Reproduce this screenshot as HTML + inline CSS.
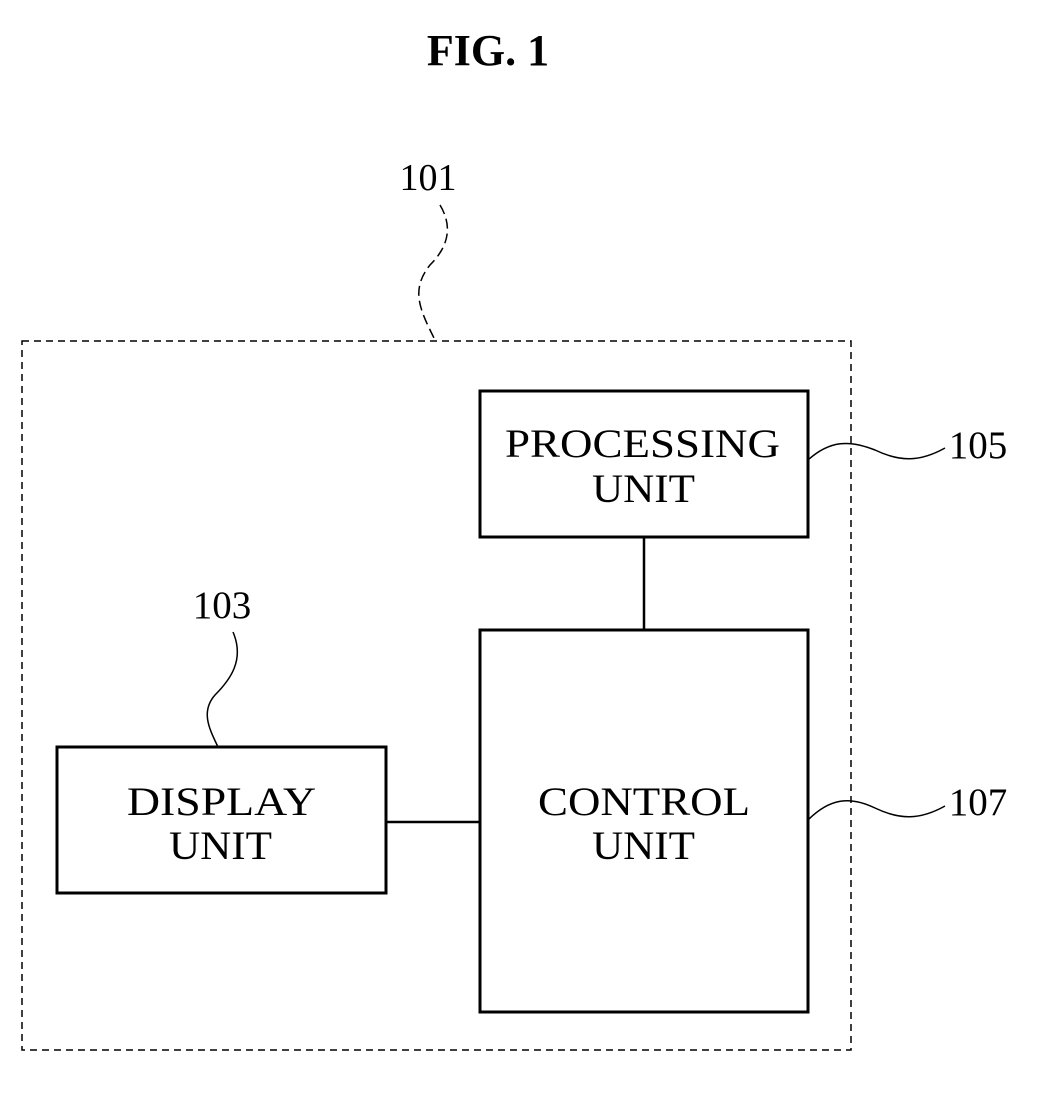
<!DOCTYPE html>
<html><head><meta charset="utf-8"><style>
html,body{margin:0;padding:0;background:#fff;}
svg{display:block;}
text{font-family:"Liberation Serif",serif;fill:#000;}
</style></head><body>
<svg width="1039" height="1098" viewBox="0 0 1039 1098" xmlns="http://www.w3.org/2000/svg">
<text x="488" y="65" font-size="44" font-weight="bold" text-anchor="middle">FIG. 1</text>
<rect x="22" y="341" width="829" height="709" fill="none" stroke="#000" stroke-width="1.5" stroke-dasharray="7,5"/>
<text x="428" y="190" font-size="38" text-anchor="middle">101</text>
<path d="M440,205 C455,230 445,250 430,265 C410,290 420,310 435,340" fill="none" stroke="#000" stroke-width="1.5" stroke-dasharray="10,5"/>
<rect x="480" y="391" width="328" height="146" fill="none" stroke="#000" stroke-width="3"/>
<text x="505" y="457" font-size="40" textLength="275" lengthAdjust="spacingAndGlyphs">PROCESSING</text>
<text x="592" y="502" font-size="40" textLength="103" lengthAdjust="spacingAndGlyphs">UNIT</text>
<line x1="644" y1="537" x2="644" y2="630" stroke="#000" stroke-width="2.5"/>
<rect x="480" y="630" width="328" height="382" fill="none" stroke="#000" stroke-width="3"/>
<text x="538" y="815" font-size="40" textLength="212" lengthAdjust="spacingAndGlyphs">CONTROL</text>
<text x="592" y="859" font-size="40" textLength="103" lengthAdjust="spacingAndGlyphs">UNIT</text>
<rect x="57" y="747" width="329" height="146" fill="none" stroke="#000" stroke-width="3"/>
<text x="127" y="815" font-size="40" textLength="189" lengthAdjust="spacingAndGlyphs">DISPLAY</text>
<text x="169" y="859" font-size="40" textLength="103" lengthAdjust="spacingAndGlyphs">UNIT</text>
<line x1="386" y1="822" x2="480" y2="822" stroke="#000" stroke-width="2.5"/>
<text x="222" y="618" font-size="39" text-anchor="middle">103</text>
<path d="M233,632 C245,660 230,680 215,695 C200,712 210,730 218,747" fill="none" stroke="#000" stroke-width="1.5"/>
<text x="978" y="458" font-size="39" text-anchor="middle">105</text>
<path d="M808,460 C830,440 850,440 875,450 C900,462 920,462 945,448" fill="none" stroke="#000" stroke-width="1.5"/>
<text x="978" y="815" font-size="39" text-anchor="middle">107</text>
<path d="M808,820 C830,798 850,796 875,808 C900,820 920,820 945,806" fill="none" stroke="#000" stroke-width="1.5"/>
</svg>
</body></html>
